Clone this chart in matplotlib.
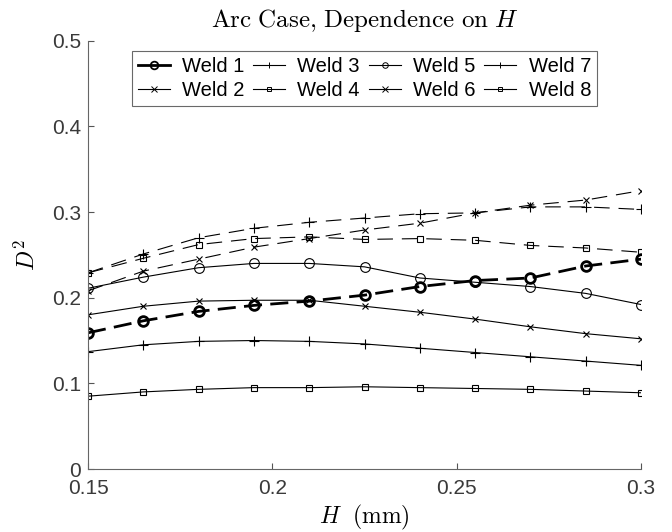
import numpy as np
import matplotlib
matplotlib.use("Agg")
import matplotlib.pyplot as plt

plt.rcParams['font.family'] = ['Liberation Sans', 'DejaVu Sans']
plt.rcParams['mathtext.fontset'] = 'cm'

# data
H = [0.15, 0.165, 0.18, 0.195, 0.21, 0.225, 0.24, 0.255, 0.27, 0.285, 0.3]
weld1 = [0.159, 0.173, 0.184, 0.191, 0.196, 0.203, 0.213, 0.220, 0.223, 0.237, 0.245]
weld2 = [0.208, 0.231, 0.245, 0.259, 0.269, 0.279, 0.287, 0.299, 0.308, 0.314, 0.325]
weld3 = [0.229, 0.251, 0.270, 0.281, 0.288, 0.293, 0.298, 0.299, 0.306, 0.306, 0.303]
weld4 = [0.229, 0.246, 0.262, 0.269, 0.271, 0.268, 0.269, 0.267, 0.261, 0.258, 0.253]
weld5 = [0.211, 0.224, 0.235, 0.240, 0.240, 0.236, 0.223, 0.218, 0.213, 0.205, 0.192]
weld6 = [0.180, 0.190, 0.196, 0.197, 0.197, 0.190, 0.183, 0.175, 0.166, 0.158, 0.152]
weld7 = [0.137, 0.145, 0.149, 0.150, 0.149, 0.146, 0.141, 0.136, 0.131, 0.126, 0.121]
weld8 = [0.085, 0.090, 0.093, 0.095, 0.095, 0.096, 0.095, 0.094, 0.093, 0.091, 0.089]

labels = ['Weld 1', 'Weld 2', 'Weld 3', 'Weld 4', 'Weld 5', 'Weld 6', 'Weld 7', 'Weld 8']
series = [weld1, weld2, weld3, weld4, weld5, weld6, weld7, weld8]
markers = ['o', 'x', '+', 's', 'o', 'x', '+', 's']
msizes = [7, 5, 7, 4.5, 7, 5, 7, 4.5]
styles = ['--', '--', '--', '--', '-', '-', '-', '-']

fig = plt.figure(figsize=(6.72, 5.32), dpi=100)
ax = fig.add_axes([0.131, 0.1184, 0.823, 0.8051])

for i in range(8):
    lw = 2.0 if i == 0 else 0.8
    mew = 2.0 if i == 0 else 0.8
    if styles[i] == '--':
        dash = (6.5, 3) if i == 0 else (14, 8)
    else:
        dash = (None, None)
    ax.plot(H, series[i], linestyle=styles[i], color='k', linewidth=lw,
            marker=markers[i], markersize=msizes[i], markerfacecolor='none',
            markeredgecolor='k', markeredgewidth=mew, label=labels[i],
            dashes=dash)

ax.set_xlim(0.15, 0.3)
ax.set_ylim(0, 0.5)
ax.set_xticks([0.15, 0.2, 0.25, 0.3])
ax.set_xticklabels(['0.15', '0.2', '0.25', '0.3'])
ax.set_yticks([0, 0.1, 0.2, 0.3, 0.4, 0.5])
ax.set_yticklabels(['0', '0.1', '0.2', '0.3', '0.4', '0.5'])
ax.tick_params(direction='in', length=4, width=0.8, color='#555555', labelsize=15, labelcolor='#3a3a3a')
ax.tick_params(axis='x', pad=7.5)
ax.tick_params(axis='y', pad=5)
for s in ['top', 'right']:
    ax.spines[s].set_visible(False)
for s in ['left', 'bottom']:
    ax.spines[s].set_color('#666666')
    ax.spines[s].set_linewidth(0.8)

ax.set_title(r'$\mathrm{Arc\ Case{,}\ Dependence\ on\ }H$', fontsize=18, pad=10)
ax.set_xlabel(r'$H\ \ \mathrm{(mm)}$', fontsize=17, labelpad=3)
ax.set_ylabel(r'$D^2$', fontsize=17, labelpad=9)

leg = ax.legend(ncol=4, loc='upper left', bbox_to_anchor=(0.079, 0.976, 0.8414, 0.0),
                mode='expand', fontsize=14.5,
                handlelength=1.6, handletextpad=0.6, columnspacing=0.6,
                labelspacing=0.25, borderpad=0.3, borderaxespad=0.0,
                fancybox=False, frameon=True, edgecolor='#444444')
leg.get_frame().set_linewidth(0.8)
for i, h in enumerate(leg.legend_handles):
    if i == 0:
        h.set_markersize(5.5)
        h.set_markeredgewidth(1.3)
    else:
        h.set_markersize(4 if markers[i] != 's' else 3.5)
        h.set_markeredgewidth(0.7)
    h.set_linestyle('-')

fig.savefig('out.png', dpi=100)
